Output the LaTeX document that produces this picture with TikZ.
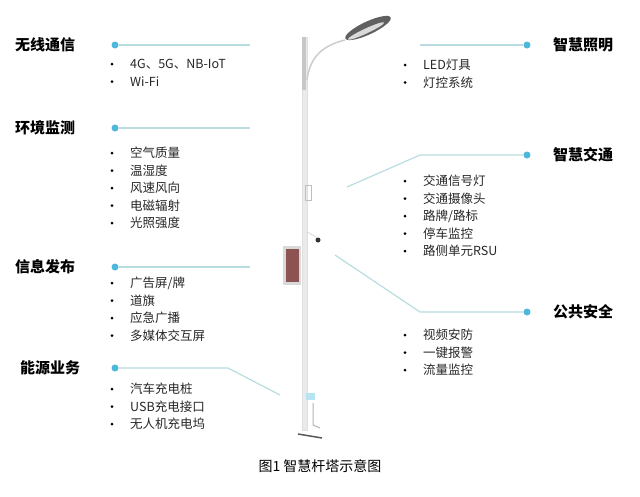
\documentclass[tikz,border=0pt]{standalone}
\usepackage{fontspec}
\setmainfont{Noto Sans CJK SC}
\usepackage{tikz}
\usetikzlibrary{calc,positioning}
\definecolor{linecol}{HTML}{B8DCDF}
\definecolor{dotcol}{HTML}{4DB8DC}
\definecolor{polecol}{HTML}{E8EAEC}
\tikzset{
  head/.style={font=\bfseries\fontsize{15}{17}\selectfont,inner sep=0pt},
  item/.style={font=\fontsize{12.5}{14}\selectfont,inner sep=0pt,anchor=west,text=black!85},
  dot/.style={circle,fill=dotcol,inner sep=0pt,minimum size=7pt},
  link/.style={draw=linecol,line width=1.2pt},
}
\newcommand\items[3]{% x, first y, list
  \foreach \t [count=\i from 0] in {#3}{
    \node[item] at (#1+18,#2+\i*17.5) {\t};
    \fill (#1,#2+\i*17.5) circle (1.5pt);
  }}
\begin{document}
\begin{tikzpicture}[x=1pt,y=-1pt]
\useasboundingbox (0,0) rectangle (640,496);
% pole
\fill[polecol] (302,37) rectangle (307,430);
\draw[gray!25] (302,37) rectangle (307,430);
\fill[gray!45] (302,37) rectangle (306,90);
\draw[gray!40,line width=1.5pt] (307,80) .. controls (310,55) and (325,45) .. (345,40);
\fill[gray!75!black,rotate around={25:(368,28)}] (368,28) ellipse (25pt and 6.5pt);
\fill[gray!30,rotate around={25:(366,31)}] (366,31) ellipse (20pt and 2.5pt);
\draw[gray!50] (305,185) rectangle (311,200);
\fill[black!80] (318,240) circle (2.5pt);
\draw[gray!50] (307,232) -- (318,238);
\fill[gray!30] (283,246) rectangle (301,285);
\fill[black!35!red!35!gray] (286,249) rectangle (299,282);
\fill[dotcol!40] (306,393) rectangle (315,400);
\draw[gray!60,line width=1pt] (313,403) -- (313,425) -- (320,428);
\draw[gray!70!black,line width=1.5pt] (298,434) -- (322,438);
% left side
\node[head,anchor=west] (wx) at (15,45) {无线通信};
\node[dot] (wxd) at (115,45) {};
\draw[link] (wxd) -- (250,45);
\items{112}{64}{4G、5G、NB-IoT,Wi-Fi}
\node[head,anchor=west] (hj) at (15,128) {环境监测};
\node[dot] (hjd) at (115,128) {};
\draw[link] (hjd) -- (250,128);
\items{112}{153}{空气质量,温湿度,风速风向,电磁辐射,光照强度}
\node[head,anchor=west] (xx) at (15,267) {信息发布};
\node[dot] (xxd) at (115,267) {};
\draw[link] (xxd) -- (250,267);
\items{112}{283}{广告屏/牌,道旗,应急广播,多媒体交互屏}
\node[head,anchor=west] (ny) at (20,368) {能源业务};
\node[dot] (nyd) at (115,368) {};
\draw[link] (nyd) -- (228,368) -- (280,395);
\items{112}{389}{汽车充电桩,USB充电接口,无人机充电坞}
% right side
\node[head,anchor=west] (zm) at (553,45) {智慧照明};
\node[dot] (zmd) at (527,45) {};
\draw[link] (zmd) -- (420,45);
\items{405}{65}{LED灯具,灯控系统}
\node[head,anchor=west] (jt) at (553,155) {智慧交通};
\node[dot] (jtd) at (527,155) {};
\draw[link] (jtd) -- (420,155) -- (347,187);
\items{405}{181}{交通信号灯,交通摄像头,路牌/路标,停车监控,路侧单元RSU}
\node[head,anchor=west] (aq) at (553,312) {公共安全};
\node[dot] (aqd) at (527,312) {};
\draw[link] (aqd) -- (420,312) -- (335,255);
\items{405}{335}{视频安防,一键报警,流量监控}
% caption
\node[font=\fontsize{14}{16}\selectfont] (cap) at (320,466) {图1 智慧杆塔示意图};
\end{tikzpicture}
\end{document}
